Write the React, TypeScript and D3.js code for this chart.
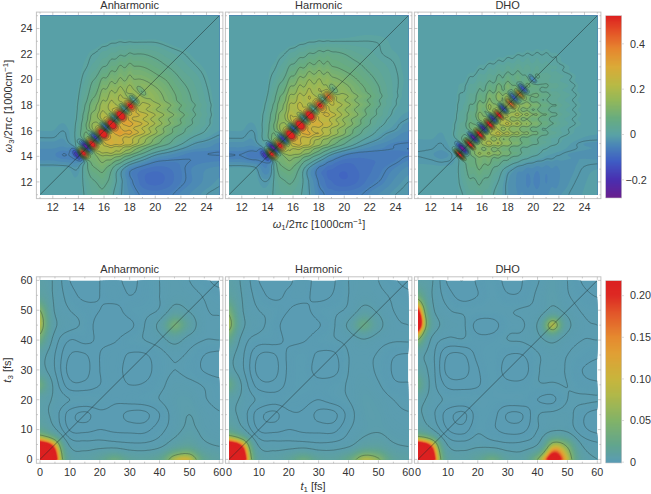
import * as d3 from "d3";

// Spectra: signal on a 1000 cm-1 grid, rows from w3 = 25 down to 11, columns w1 = 11..25
const anharmonicSpectrum = [
  [0, 0, 0, 0, 0, 0, 0, 0, 0, 0, 0, 0, 0, 0, 0],
  [0, 0, 0, 0, 0, 0, 0, 0, 0, 0, 0, 0, 0, 0, 0],
  [0, 0, 0, 0, 0, 0.005, 0.01, 0.01, 0.01, 0.01, 0.005, 0, 0, 0, 0],
  [0, 0, 0, 0.003, 0.01, 0.025, 0.04, 0.05, 0.05, 0.04, 0.025, 0.015, 0.005, 0, 0],
  [0, 0, 0, 0.003, 0.02, 0.05, 0.08, 0.09, 0.085, 0.07, 0.05, 0.03, 0.015, 0.005, 0],
  [0, 0, 0, 0.005, 0.04, 0.09, 0.115, 0.125, 0.12, 0.1, 0.08, 0.05, 0.03, 0.01, 0],
  [0, 0, 0, 0.01, 0.06, 0.13, 0.165, 0.175, 0.165, 0.135, 0.1, 0.07, 0.04, 0.015, 0],
  [0, 0, 0, 0.015, 0.09, 0.17, 0.215, 0.225, 0.2, 0.16, 0.12, 0.08, 0.05, 0.02, 0],
  [0, 0, 0, 0.02, 0.12, 0.22, 0.27, 0.28, 0.24, 0.18, 0.13, 0.09, 0.05, 0.02, 0],
  [-0.005, -0.005, -0.01, 0.03, 0.15, 0.27, 0.31, 0.29, 0.23, 0.16, 0.1, 0.06, 0.03, 0.01, -0.005],
  [-0.02, -0.02, -0.02, 0.03, 0.16, 0.25, 0.26, 0.22, 0.15, 0.09, 0.05, 0.015, -0.01, -0.02, -0.03],
  [-0.04, -0.04, -0.05, -0.03, 0.1, 0.15, 0.13, 0.07, 0.02, -0.02, -0.035, -0.045, -0.05, -0.05, -0.05],
  [0, 0, 0, -0.01, 0.07, 0.09, 0.02, -0.04, -0.065, -0.075, -0.07, -0.055, -0.04, -0.03, -0.025],
  [0, 0, 0, 0, 0.04, 0.06, 0.01, -0.04, -0.075, -0.085, -0.075, -0.055, -0.04, -0.025, -0.015],
  [0, 0, 0, 0, 0.03, 0.04, 0, -0.03, -0.055, -0.06, -0.055, -0.04, -0.025, -0.012, -0.008],
];
const harmonicSpectrum = [
  [0, 0, 0, 0, 0, 0, 0, 0, 0, 0, 0, 0, 0, 0, 0],
  [0, 0, 0, 0, 0, 0, 0, 0, 0, 0.002, 0.004, 0.004, 0.002, 0, 0],
  [0, 0, 0, 0, 0, 0.002, 0.008, 0.012, 0.012, 0.012, 0.012, 0.012, 0.01, 0.004, 0],
  [0, 0, 0, 0.002, 0.008, 0.025, 0.045, 0.06, 0.06, 0.05, 0.035, 0.025, 0.012, 0.008, 0.004],
  [0, 0, 0, 0.004, 0.02, 0.06, 0.09, 0.1, 0.09, 0.075, 0.06, 0.04, 0.025, 0.012, 0.004],
  [0, 0, 0, 0.006, 0.04, 0.1, 0.14, 0.15, 0.135, 0.11, 0.085, 0.06, 0.035, 0.015, 0.005],
  [0, 0, 0, 0.01, 0.07, 0.15, 0.19, 0.195, 0.18, 0.15, 0.11, 0.08, 0.045, 0.015, 0.004],
  [0, 0, 0, 0.02, 0.1, 0.2, 0.23, 0.24, 0.22, 0.17, 0.12, 0.08, 0.04, 0.012, 0],
  [0, 0, 0, 0.03, 0.13, 0.23, 0.26, 0.26, 0.23, 0.16, 0.11, 0.06, 0.025, 0, -0.012],
  [-0.005, -0.005, -0.01, 0.04, 0.16, 0.28, 0.29, 0.25, 0.19, 0.13, 0.07, 0.03, 0, -0.015, -0.03],
  [-0.02, -0.02, -0.02, 0.04, 0.17, 0.25, 0.23, 0.16, 0.1, 0.05, 0.01, -0.015, -0.03, -0.045, -0.05],
  [-0.05, -0.05, -0.06, -0.03, 0.11, 0.14, 0.09, 0.03, -0.025, -0.055, -0.065, -0.065, -0.065, -0.06, -0.05],
  [0, 0, -0.005, -0.04, 0.07, 0.08, 0, -0.055, -0.08, -0.09, -0.08, -0.07, -0.055, -0.04, -0.025],
  [0, 0, 0, -0.01, 0.04, 0.05, 0, -0.05, -0.08, -0.09, -0.08, -0.06, -0.045, -0.025, -0.012],
  [0, 0, 0, 0, 0.03, 0.03, 0, -0.04, -0.06, -0.06, -0.055, -0.04, -0.025, -0.012, -0.008],
];
const dhoSpectrum = [
  [0, 0, 0, 0, 0, 0, 0, 0, 0, 0, 0, 0, 0, 0, 0],
  [0, 0, 0, 0, 0, 0, 0, 0, 0, 0, 0, 0, 0, 0, 0],
  [0, 0, 0, 0, 0, 0, 0, 0, 0, 0, 0, 0, 0, 0, 0],
  [0, 0, 0, 0, 0, 0, 0.002, 0.005, 0.01, 0.012, 0.012, 0.006, 0, 0, 0],
  [0, 0, 0, 0, 0.002, 0.01, 0.02, 0.03, 0.035, 0.03, 0.025, 0.015, 0.005, 0, 0],
  [0, 0, 0, 0.003, 0.012, 0.03, 0.05, 0.07, 0.07, 0.06, 0.04, 0.025, 0.012, 0, 0],
  [0, 0, 0, 0.006, 0.025, 0.06, 0.1, 0.12, 0.11, 0.08, 0.05, 0.03, 0.015, 0.003, 0],
  [0, 0, 0, 0.008, 0.04, 0.1, 0.15, 0.17, 0.14, 0.1, 0.06, 0.035, 0.015, 0.004, 0],
  [0, 0, 0, 0.012, 0.06, 0.13, 0.19, 0.19, 0.15, 0.11, 0.07, 0.035, 0.015, 0.004, 0],
  [0, 0, -0.003, 0.02, 0.08, 0.17, 0.2, 0.17, 0.13, 0.09, 0.05, 0.025, 0.01, 0.003, 0],
  [-0.008, -0.008, -0.01, 0.02, 0.1, 0.16, 0.16, 0.12, 0.08, 0.05, 0.025, 0.008, -0.005, -0.015, -0.018],
  [-0.012, -0.015, -0.02, 0, 0.08, 0.12, 0.1, 0.07, 0.035, 0.012, -0.005, -0.012, -0.018, -0.02, -0.022],
  [0, 0, 0, 0.005, 0.06, 0.08, 0.045, 0, -0.025, -0.035, -0.035, -0.03, -0.02, -0.01, -0.005],
  [0, 0, 0, 0.005, 0.04, 0.05, 0.02, -0.015, -0.035, -0.045, -0.04, -0.03, -0.015, -0.006, 0],
  [0, 0, 0, 0.002, 0.025, 0.035, 0.01, -0.015, -0.03, -0.035, -0.03, -0.02, -0.01, -0.004, 0],
];

// Diagonal spots read along w1 = w3
const anharmonicRedAt = [14.3, 15.0, 15.85, 16.55, 17.25, 18.0];
const anharmonicRedAmp = [0.62, 0.52, 0.58, 0.58, 0.58, 0.35];
const anharmonicBlueAt = [14.05, 14.7, 15.4, 16.2, 16.9, 17.65, 18.35, 19.0];
const anharmonicBlueAmp = [-0.22, -0.42, -0.38, -0.42, -0.32, -0.25, -0.18, -0.08];

const harmonicRedAt = [14.25, 14.9, 15.75, 16.5, 17.25, 18.05, 18.7];
const harmonicRedAmp = [0.62, 0.44, 0.58, 0.54, 0.52, 0.3, 0.22];
const harmonicBlueAt = [14.0, 14.55, 15.3, 16.1, 16.9, 17.65, 18.4, 19.2];
const harmonicBlueAmp = [-0.22, -0.42, -0.38, -0.42, -0.3, -0.22, -0.18, -0.08];

const dhoRedAt = [14.2, 15.0, 15.77, 16.55, 17.28, 18.19, 18.9];
const dhoRedAmp = [0.65, 0.6, 0.55, 0.5, 0.42, 0.3, 0.25];
const dhoBlueAt = [14.55, 15.4, 16.15, 16.9, 17.7, 18.55, 19.25, 20.0];
const dhoBlueAmp = [-0.35, -0.38, -0.38, -0.36, -0.32, -0.25, -0.22, -0.1];
const dhoFringeAt = [14.2, 15.0, 15.77, 16.55, 17.28, 18.0, 18.8, 19.55, 20.3, 21.05, 21.8];

// Time maps: contour level on a 5 fs grid, rows from t3 = 60 down to 0, columns t1 = 0..60
const anharmonicTime = [
  [4.5, 3.8, 2.0, 1.6, 2.0, 2.3, 1.7, 2.4, 3.0, 3.5, 3.0, 2.3, 1.6],
  [5.0, 3.8, 2.5, 1.7, 2.0, 2.5, 2.0, 2.4, 3.0, 3.6, 3.4, 2.9, 2.5],
  [6.5, 3.9, 3.0, 2.5, 2.0, 1.6, 2.5, 2.7, 3.1, 4.4, 3.9, 3.1, 2.9],
  [7.0, 4.2, 3.4, 2.7, 1.5, 1.2, 1.7, 3.0, 4.3, 6.2, 4.8, 3.2, 3.1],
  [6.0, 3.5, 2.0, 2.3, 1.8, 1.9, 2.6, 3.0, 3.5, 4.4, 3.5, 3.0, 3.0],
  [4.5, 3.0, 1.0, 0.9, 2.0, 2.4, 1.9, 1.9, 2.6, 3.2, 2.8, 2.0, 1.7],
  [4.5, 3.0, 0.6, 0.6, 2.0, 2.4, 1.6, 1.6, 2.5, 3.0, 2.6, 1.9, 1.5],
  [6.0, 3.6, 1.4, 1.3, 2.0, 2.3, 2.0, 2.1, 2.7, 3.4, 3.3, 2.9, 2.5],
  [4.5, 3.8, 3.0, 2.9, 2.7, 2.2, 2.4, 2.6, 3.0, 3.7, 3.8, 3.1, 2.7],
  [4.5, 3.5, 1.5, 0.7, 1.7, 1.5, 0.7, 0.7, 2.0, 3.5, 4.0, 3.5, 3.1],
  [5.5, 4.2, 1.9, 1.7, 2.0, 1.8, 1.7, 1.7, 2.6, 3.6, 4.2, 3.7, 3.4],
  [8.4, 7.4, 3.8, 3.4, 3.5, 3.4, 3.2, 3.2, 3.6, 4.6, 5.0, 4.2, 3.9],
  [9.3, 8.3, 4.9, 4.6, 5.2, 6.0, 5.2, 5.0, 5.5, 7.0, 7.2, 5.5, 4.8],
];
const harmonicTime = [
  [4.5, 3.7, 2.0, 1.5, 1.8, 2.5, 1.5, 1.9, 3.0, 3.4, 3.0, 2.2, 1.6],
  [5.0, 3.8, 2.5, 1.7, 2.2, 2.3, 1.6, 2.1, 3.0, 3.6, 3.3, 2.8, 2.3],
  [6.2, 3.9, 3.0, 2.7, 2.0, 1.7, 2.5, 2.8, 3.2, 4.3, 3.8, 3.0, 2.8],
  [6.8, 4.1, 3.3, 2.5, 1.4, 1.2, 1.9, 2.9, 4.2, 5.8, 4.4, 3.2, 3.0],
  [5.6, 3.4, 2.5, 2.4, 1.8, 1.9, 2.6, 2.9, 3.3, 3.9, 3.4, 3.1, 3.1],
  [4.4, 3.0, 1.0, 0.9, 2.2, 2.6, 1.8, 1.8, 3.0, 3.2, 2.9, 2.1, 1.9],
  [4.4, 3.0, 0.6, 0.6, 2.2, 2.6, 1.5, 1.6, 3.0, 3.3, 2.8, 1.9, 1.6],
  [5.8, 3.6, 1.5, 1.3, 2.3, 2.7, 2.4, 2.6, 3.1, 3.6, 3.1, 2.2, 2.1],
  [4.4, 3.7, 2.8, 2.4, 2.6, 2.4, 2.0, 2.5, 3.0, 3.8, 3.6, 3.0, 2.6],
  [4.4, 3.4, 1.4, 0.7, 1.8, 1.8, 0.7, 0.7, 2.4, 3.7, 3.8, 3.3, 3.1],
  [5.4, 4.1, 1.9, 1.7, 2.0, 1.8, 1.7, 1.7, 2.9, 3.7, 3.9, 3.6, 3.4],
  [8.4, 7.4, 3.8, 3.4, 3.4, 3.4, 3.2, 3.3, 3.7, 4.6, 4.7, 4.1, 3.9],
  [9.3, 8.3, 4.9, 4.6, 5.2, 6.0, 5.2, 5.0, 5.8, 7.0, 6.6, 5.2, 4.7],
];
const dhoTime = [
  [4.5, 4.0, 1.8, 1.0, 2.2, 2.7, 1.6, 2.0, 2.9, 3.8, 3.0, 1.9, 1.3],
  [6.0, 3.9, 2.5, 1.5, 2.0, 2.8, 2.1, 2.2, 3.2, 3.9, 3.1, 2.4, 1.9],
  [8.0, 4.2, 3.1, 2.8, 2.8, 2.8, 2.9, 3.1, 3.3, 4.3, 3.6, 2.9, 2.7],
  [8.5, 4.8, 3.5, 3.2, 1.6, 1.6, 2.7, 2.9, 4.1, 7.0, 4.4, 3.2, 3.0],
  [6.5, 3.6, 2.8, 2.9, 2.4, 2.5, 3.0, 3.1, 3.6, 4.3, 3.4, 3.0, 3.0],
  [4.4, 3.2, 1.0, 0.9, 2.3, 2.7, 2.0, 2.0, 2.9, 3.4, 3.0, 2.6, 2.2],
  [4.8, 3.3, 0.6, 0.5, 1.9, 2.7, 1.5, 1.5, 2.9, 3.2, 2.9, 2.0, 1.6],
  [5.8, 3.4, 1.7, 1.5, 1.9, 2.7, 2.3, 2.3, 2.9, 2.9, 3.0, 2.4, 2.2],
  [4.4, 3.5, 2.8, 2.8, 2.8, 2.7, 2.7, 2.7, 2.0, 1.8, 3.0, 3.2, 3.1],
  [4.2, 3.2, 1.5, 0.7, 2.5, 2.4, 0.9, 1.0, 2.9, 3.3, 3.4, 2.2, 1.5],
  [5.0, 4.0, 2.0, 1.5, 2.8, 2.2, 1.6, 1.7, 3.0, 3.8, 3.7, 2.3, 1.7],
  [8.4, 7.4, 3.9, 3.4, 3.7, 3.5, 3.2, 3.3, 4.0, 6.8, 6.2, 3.9, 3.2],
  [9.3, 8.3, 5.0, 4.6, 5.2, 6.0, 4.9, 4.7, 6.5, 8.4, 7.2, 4.7, 4.0],
];

const titles = ["Anharmonic", "Harmonic", "DHO"];
const freqTicks = [12, 14, 16, 18, 20, 22, 24];
const freqMinorTicks = d3.range(11, 26);
const timeTicks = [0, 10, 20, 30, 40, 50, 60];
const timeMinorTicks = d3.range(0, 61, 5);
const freqBarTicks = [-0.2, 0, 0.2, 0.4];
const timeBarTicks = [0, 0.05, 0.1, 0.15, 0.2];
const freqLevels = [-0.2, -0.15, -0.1, -0.05, -0.012, 0.012, 0.05, 0.085, 0.12, 0.155, 0.19, 0.225, 0.26, 0.3, 0.35, 0.4, 0.5];
const timeLevels = [1, 2, 3, 4, 6.5];

const freqColor = d3
  .scaleLinear<string>()
  .domain([-0.28, -0.2, -0.12, -0.05, 0, 0.07, 0.15, 0.22, 0.3, 0.38, 0.45, 0.524])
  .range(["#6a1f8e", "#4a2fb0", "#3f5cc4", "#4a85b8", "#5aa3a5", "#68ac80", "#93b85a", "#b9b945", "#dbaa38", "#e6852f", "#e45528", "#dd2020"])
  .clamp(true);
const timeColor = d3
  .scaleLinear<string>()
  .domain([0, 0.02, 0.05, 0.08, 0.1, 0.13, 0.15, 0.18, 0.2, 0.218])
  .range(["#5a9cb4", "#62a58e", "#82b368", "#b0b84a", "#c8b53d", "#e0a035", "#e58a30", "#e2552a", "#dd2a24", "#dc2020"])
  .clamp(true);

const plotLeft = [40, 229, 418];
const plotWidth = 179.3;
const FONT = "'Liberation Sans', Arial, sans-serif";
const INK = "#333";

const catmull = (a: number, b: number, c: number, d: number, t: number) =>
  0.5 * (2 * b + (c - a) * t + (2 * a - 5 * b + 4 * c - d) * t * t + (3 * b - a - 3 * c + d) * t * t * t);

// smooth lookup in a grid, gx and gy are fractional indices
function lookup(rows: number[][], gx: number, gy: number) {
  const ny = rows.length;
  const nx = rows[0].length;
  const at = (i: number, j: number) => rows[Math.max(0, Math.min(ny - 1, j))][Math.max(0, Math.min(nx - 1, i))];
  const i = Math.floor(gx);
  const j = Math.floor(gy);
  const tx = gx - i;
  const ty = gy - j;
  const col = [-1, 0, 1, 2].map((dj) =>
    catmull(at(i - 1, j + dj), at(i, j + dj), at(i + 1, j + dj), at(i + 2, j + dj), tx)
  );
  return catmull(col[0], col[1], col[2], col[3], ty);
}

const comb = (x: number, at: number[]) =>
  d3.sum(at, (p) => Math.exp(-((x - p) ** 2) / (2 * 0.17 * 0.17)) - 0.5 * Math.exp(-((x - p) ** 2) / (2 * 0.34 * 0.34)));

const spot = (w1: number, w3: number, at: number, amp: number, along: number, across: number, shift: number) => {
  const u = ((w1 - at) + (w3 - at)) / Math.SQRT2;
  const v = ((w1 - at) - (w3 - at)) / Math.SQRT2 - shift;
  return amp * Math.exp(-(u * u) / (2 * along * along) - (v * v) / (2 * across * across));
};

interface Panel {
  d: number[];
  n: number;
  domain: [number, number];
}

// grid is one step wider than the axes on each side so contours never run along the frame
function buildPanel(domain: [number, number], n: number, value: (x: number, y: number) => number): Panel {
  const step = (domain[1] - domain[0]) / (n - 3);
  const d: number[] = [];
  for (let j = 0; j < n; j++) {
    for (let i = 0; i < n; i++) {
      d.push(value(domain[0] + (i - 1) * step, domain[0] + (j - 1) * step));
    }
  }
  return { d, n, domain };
}

function panelPath(p: Panel, x: d3.ScaleLinear<number, number>, y: d3.ScaleLinear<number, number>) {
  const step = (p.domain[1] - p.domain[0]) / (p.n - 3);
  const transform = d3.geoTransform({
    point(a: number, b: number) {
      (this as any).stream.point(x(p.domain[0] + (a - 1.5) * step), y(p.domain[0] + (b - 1.5) * step));
    },
  });
  const path: any = d3.geoPath(transform);
  if (path.digits) path.digits(1);
  return path;
}

function HeatPanel(props: {
  id: string;
  title: string;
  left: number;
  top: number;
  domain: [number, number];
  panel: Panel;
  fill: number[];
  colorOf: (v: number) => string;
  toColorValue: (v: number) => number;
  levels: number[];
  ticks: number[];
  minor: number[];
  titleY: number;
}) {
  const { id, title, left, top, domain, panel, colorOf, toColorValue, levels, ticks, minor, titleY } = props;
  const x = d3.scaleLinear().domain(domain).range([left, left + plotWidth]);
  const y = d3.scaleLinear().domain(domain).range([top + plotWidth - 0.3, top]);
  const path = panelPath(panel, x, y);
  const gen = d3.contours().size([panel.n, panel.n]);
  const bands = gen.thresholds(props.fill)(panel.d);
  const lines = d3.contours().size([panel.n, panel.n]).thresholds(levels)(panel.d);
  const pad = 3.6;
  const fx0 = left - pad;
  const fx1 = left + plotWidth + pad;
  const fy0 = top - pad;
  const fy1 = top + plotWidth + pad;
  const len = (t: number) => (ticks.includes(t) ? 3 : 1.6);
  return (
    <g>
      <text x={left + plotWidth / 2} y={titleY} textAnchor="middle" fontSize={11} fill={INK}>{title}</text>
      <rect x={fx0} y={fy0} width={fx1 - fx0} height={fy1 - fy0} fill="#fff" stroke="#c4c4c4" strokeWidth={1} />
      <clipPath id={id}>
        <rect x={left} y={top} width={plotWidth} height={plotWidth - 0.3} />
      </clipPath>
      <g clipPath={`url(#${id})`}>
        <rect x={left} y={top} width={plotWidth} height={plotWidth} fill={colorOf(toColorValue(props.fill[0]))} />
        {bands.map((b, i) => (
          <path key={i} d={path(b)} fill={colorOf(toColorValue(b.value))} stroke="none" />
        ))}
        {lines.map((b, i) => (
          <path key={i} d={path(b)} fill="none" stroke="#27393b" strokeOpacity={0.55} strokeWidth={0.7} />
        ))}
        <line x1={x(domain[0])} y1={y(domain[0])} x2={x(domain[1])} y2={y(domain[1])} stroke="#1c2526" strokeOpacity={0.8} strokeWidth={0.6} />
      </g>
      {minor.map((t) => (
        <g key={t} stroke="#a8a8a8" strokeWidth={0.6}>
          <line x1={x(t)} x2={x(t)} y1={fy1} y2={fy1 - len(t)} />
          <line x1={x(t)} x2={x(t)} y1={fy0} y2={fy0 + len(t)} />
          <line y1={y(t)} y2={y(t)} x1={fx0} x2={fx0 + len(t)} />
          <line y1={y(t)} y2={y(t)} x1={fx1} x2={fx1 - len(t)} />
        </g>
      ))}
      {ticks.map((t) => (
        <text key={t} x={x(t)} y={fy1 + 12.5} textAnchor="middle" fontSize={10.8} fill={INK}>{t}</text>
      ))}
      {left === plotLeft[0] &&
        ticks.map((t) => (
          <text key={t} x={32.5} y={y(t) + 3.8} textAnchor="end" fontSize={10.8} fill={INK}>{t}</text>
        ))}
    </g>
  );
}

function ColorBar(props: {
  top: number;
  bottom: number;
  domain: [number, number];
  color: (v: number) => string;
  ticks: number[];
  format: (v: number) => string;
}) {
  const { top, bottom, domain, color, ticks, format } = props;
  const y = d3.scaleLinear().domain(domain).range([bottom, top]);
  const rows = d3.range(top, bottom, 1);
  return (
    <g>
      {rows.map((r) => (
        <rect key={r} x={605.7} y={r} width={16} height={Math.min(1.3, bottom - r)} fill={color(y.invert(r + 0.5))} />
      ))}
      <rect x={605.7} y={top} width={16} height={bottom - top} fill="none" stroke="#c9c9c9" strokeWidth={0.6} />
      {ticks.map((t) => (
        <g key={t}>
          <line x1={621.7} x2={624} y1={y(t)} y2={y(t)} stroke="#c4c4c4" strokeWidth={0.6} />
          <text x={t < 0 ? 625.5 : 630} y={y(t) + 3.8} fontSize={10.8} fill={INK}>{format(t)}</text>
        </g>
      ))}
    </g>
  );
}

export default function App() {
  const freqDomain: [number, number] = [11, 25];
  const timeDomain: [number, number] = [0, 60];

  const spectra = [anharmonicSpectrum, harmonicSpectrum, dhoSpectrum];
  const reds = [
    [anharmonicRedAt, anharmonicRedAmp],
    [harmonicRedAt, harmonicRedAmp],
    [dhoRedAt, dhoRedAmp],
  ];
  const blues = [
    [anharmonicBlueAt, anharmonicBlueAmp],
    [harmonicBlueAt, harmonicBlueAmp],
    [dhoBlueAt, dhoBlueAmp],
  ];
  const fringeAt = [anharmonicRedAt, harmonicRedAt, dhoFringeAt];
  const fringeGain = [0.17, 0.17, 0.42];
  const redAlong = [0.2, 0.2, 0.1];
  const blueAlong = [0.17, 0.17, 0.14];

  const freqPanels = spectra.map((rows, k) =>
    buildPanel(freqDomain, 190, (w1, w3) => {
      const base = lookup(rows, w1 - 11, 25 - w3);
      // stripes run vertically above the diagonal and horizontally below it
      const below = 0.5 + 0.5 * Math.tanh(w1 - w3);
      const vertical = fringeGain[k] * (1 - 0.5 * below);
      const horizontal = fringeGain[k] * (0.3 + 0.7 * below);
      let v = base * (1 + vertical * comb(w1, fringeAt[k]) + horizontal * comb(w3, fringeAt[k]));
      reds[k][0].forEach((at, i) => {
        v += spot(w1, w3, at, reds[k][1][i], redAlong[k], 0.28, 0.08);
      });
      blues[k][0].forEach((at, i) => {
        v += spot(w1, w3, at, blues[k][1][i], blueAlong[k], 0.36, -0.08);
      });
      return v;
    })
  );

  const timeMaps = [anharmonicTime, harmonicTime, dhoTime];
  const timePanels = timeMaps.map((rows) =>
    buildPanel(timeDomain, 130, (t1, t3) => lookup(rows, t1 / 5, (60 - t3) / 5))
  );
  const levelToSignal = (l: number) => 0.22 * Math.pow(2, (l - 8) * 1.4);

  const freqBands = d3.range(-0.28, 0.53, 0.0125);
  const timeBands = d3.range(2, 8.6, 0.08);

  return (
    <svg width={651} height={494} viewBox="0 0 651 494" fontFamily={FONT} style={{ position: "absolute", left: 0, top: 0, display: "block" }}>
      <rect width={651} height={494} fill="#fff" />
      {titles.map((t, k) => (
        <HeatPanel
          key={t}
          id={`freq-${k}`}
          title={t}
          left={plotLeft[k]}
          top={15.7}
          domain={freqDomain}
          panel={freqPanels[k]}
          fill={freqBands}
          colorOf={freqColor}
          toColorValue={(v) => v}
          levels={freqLevels}
          ticks={freqTicks}
          minor={freqMinorTicks}
          titleY={8.5}
        />
      ))}
      {titles.map((t, k) => (
        <HeatPanel
          key={t}
          id={`time-${k}`}
          title={t}
          left={plotLeft[k]}
          top={280.4}
          domain={timeDomain}
          panel={timePanels[k]}
          fill={timeBands}
          colorOf={timeColor}
          toColorValue={levelToSignal}
          levels={timeLevels}
          ticks={timeTicks}
          minor={timeMinorTicks}
          titleY={272.5}
        />
      ))}
      <ColorBar top={15.7} bottom={198} domain={[-0.28, 0.524]} color={freqColor} ticks={freqBarTicks} format={(v) => (v < 0 ? `\u2212${Math.abs(v)}` : `${v}`)} />
      <ColorBar top={280.7} bottom={463} domain={[-0.001, 0.218]} color={timeColor} ticks={timeBarTicks} format={(v) => (v === 0 ? "0" : v.toFixed(2))} />

      <text x={319} y={228} textAnchor="middle" fontSize={11} fill={INK}>
        <tspan fontStyle="italic">{"\u03c9"}</tspan>
        <tspan dy={2} fontSize={8}>1</tspan>
        <tspan dy={-2}>/2{"\u03c0"}</tspan>
        <tspan fontStyle="italic">c</tspan>
        <tspan> [1000cm</tspan>
        <tspan dy={-4} fontSize={8}>{"\u22121"}</tspan>
        <tspan dy={4}>]</tspan>
      </text>
      <text transform="translate(12,106) rotate(-90)" textAnchor="middle" fontSize={11} fill={INK}>
        <tspan fontStyle="italic">{"\u03c9"}</tspan>
        <tspan dy={2} fontSize={8}>3</tspan>
        <tspan dy={-2}>/2{"\u03c0"}</tspan>
        <tspan fontStyle="italic">c</tspan>
        <tspan> [1000cm</tspan>
        <tspan dy={-4} fontSize={8}>{"\u22121"}</tspan>
        <tspan dy={4}>]</tspan>
      </text>
      <text x={313} y={490} textAnchor="middle" fontSize={11} fill={INK}>
        <tspan fontStyle="italic">t</tspan>
        <tspan dy={2} fontSize={8}>1</tspan>
        <tspan dy={-2}> [fs]</tspan>
      </text>
      <text transform="translate(11,370) rotate(-90)" textAnchor="middle" fontSize={11} fill={INK}>
        <tspan fontStyle="italic">t</tspan>
        <tspan dy={2} fontSize={8}>3</tspan>
        <tspan dy={-2}> [fs]</tspan>
      </text>
    </svg>
  );
}
